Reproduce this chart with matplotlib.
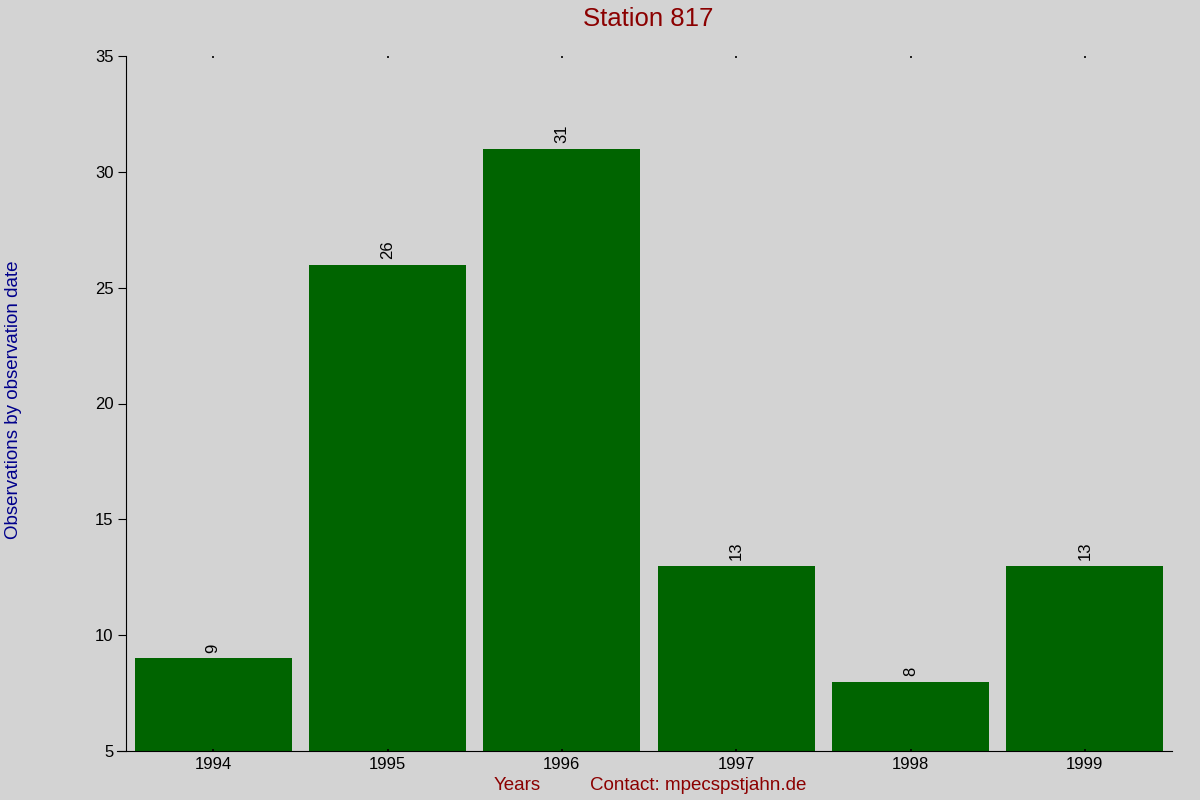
import matplotlib
matplotlib.use('agg')
import matplotlib.pyplot as plt

plt.rcParams['font.family'] = ['Liberation Sans', 'DejaVu Sans']

years = ['1994', '1995', '1996', '1997', '1998', '1999']
counts = [9, 26, 31, 13, 8, 13]

bg = '#d3d3d3'
fig = plt.figure(figsize=(12, 8), dpi=100, facecolor=bg)
ax = fig.add_axes([0.105, 0.06125, 0.8717, 0.86875], facecolor=bg)

x = list(range(len(years)))
bars = ax.bar(x, counts, width=0.9, color='#006400', bottom=0)
ax.set_xlim(-0.5, len(years) - 0.5)
ax.set_ylim(5, 35)
ax.set_yticks(range(5, 36, 5))
ax.set_xticks(x)
ax.set_xticklabels(years)

for xi, v in zip(x, counts):
    ax.annotate(str(v), (xi, v), xytext=(0, 4), textcoords='offset points',
                rotation=90, ha='center', va='bottom', fontsize=12)

for s in ['top', 'right']:
    ax.spines[s].set_visible(False)
ax.spines['bottom'].set_bounds(-0.55, len(years) - 0.5)
ax.tick_params(axis='y', direction='out', length=6, labelsize=12, pad=3)
ax.tick_params(axis='x', length=0, labelsize=12, pad=4)
# little dots along the top at each year
ax.tick_params(axis='x', top=True, direction='in', length=1.2, width=1.2)

fig.text(0.54, 0.976, 'Station 817', ha='center', va='center',
         fontsize=18.5, color='#8b0000')
fig.text(0.011, 0.5, 'Observations by observation date', rotation=90,
         ha='center', va='center', fontsize=13.5, color='#00008b')
fig.text(0.431, 0.018, 'Years', ha='center', va='center',
         fontsize=13.5, color='#8b0000')
fig.text(0.582, 0.018, 'Contact: mpecspstjahn.de', ha='center', va='center',
         fontsize=13.5, color='#8b0000')

plt.savefig('out.png', dpi=100, facecolor=bg)
